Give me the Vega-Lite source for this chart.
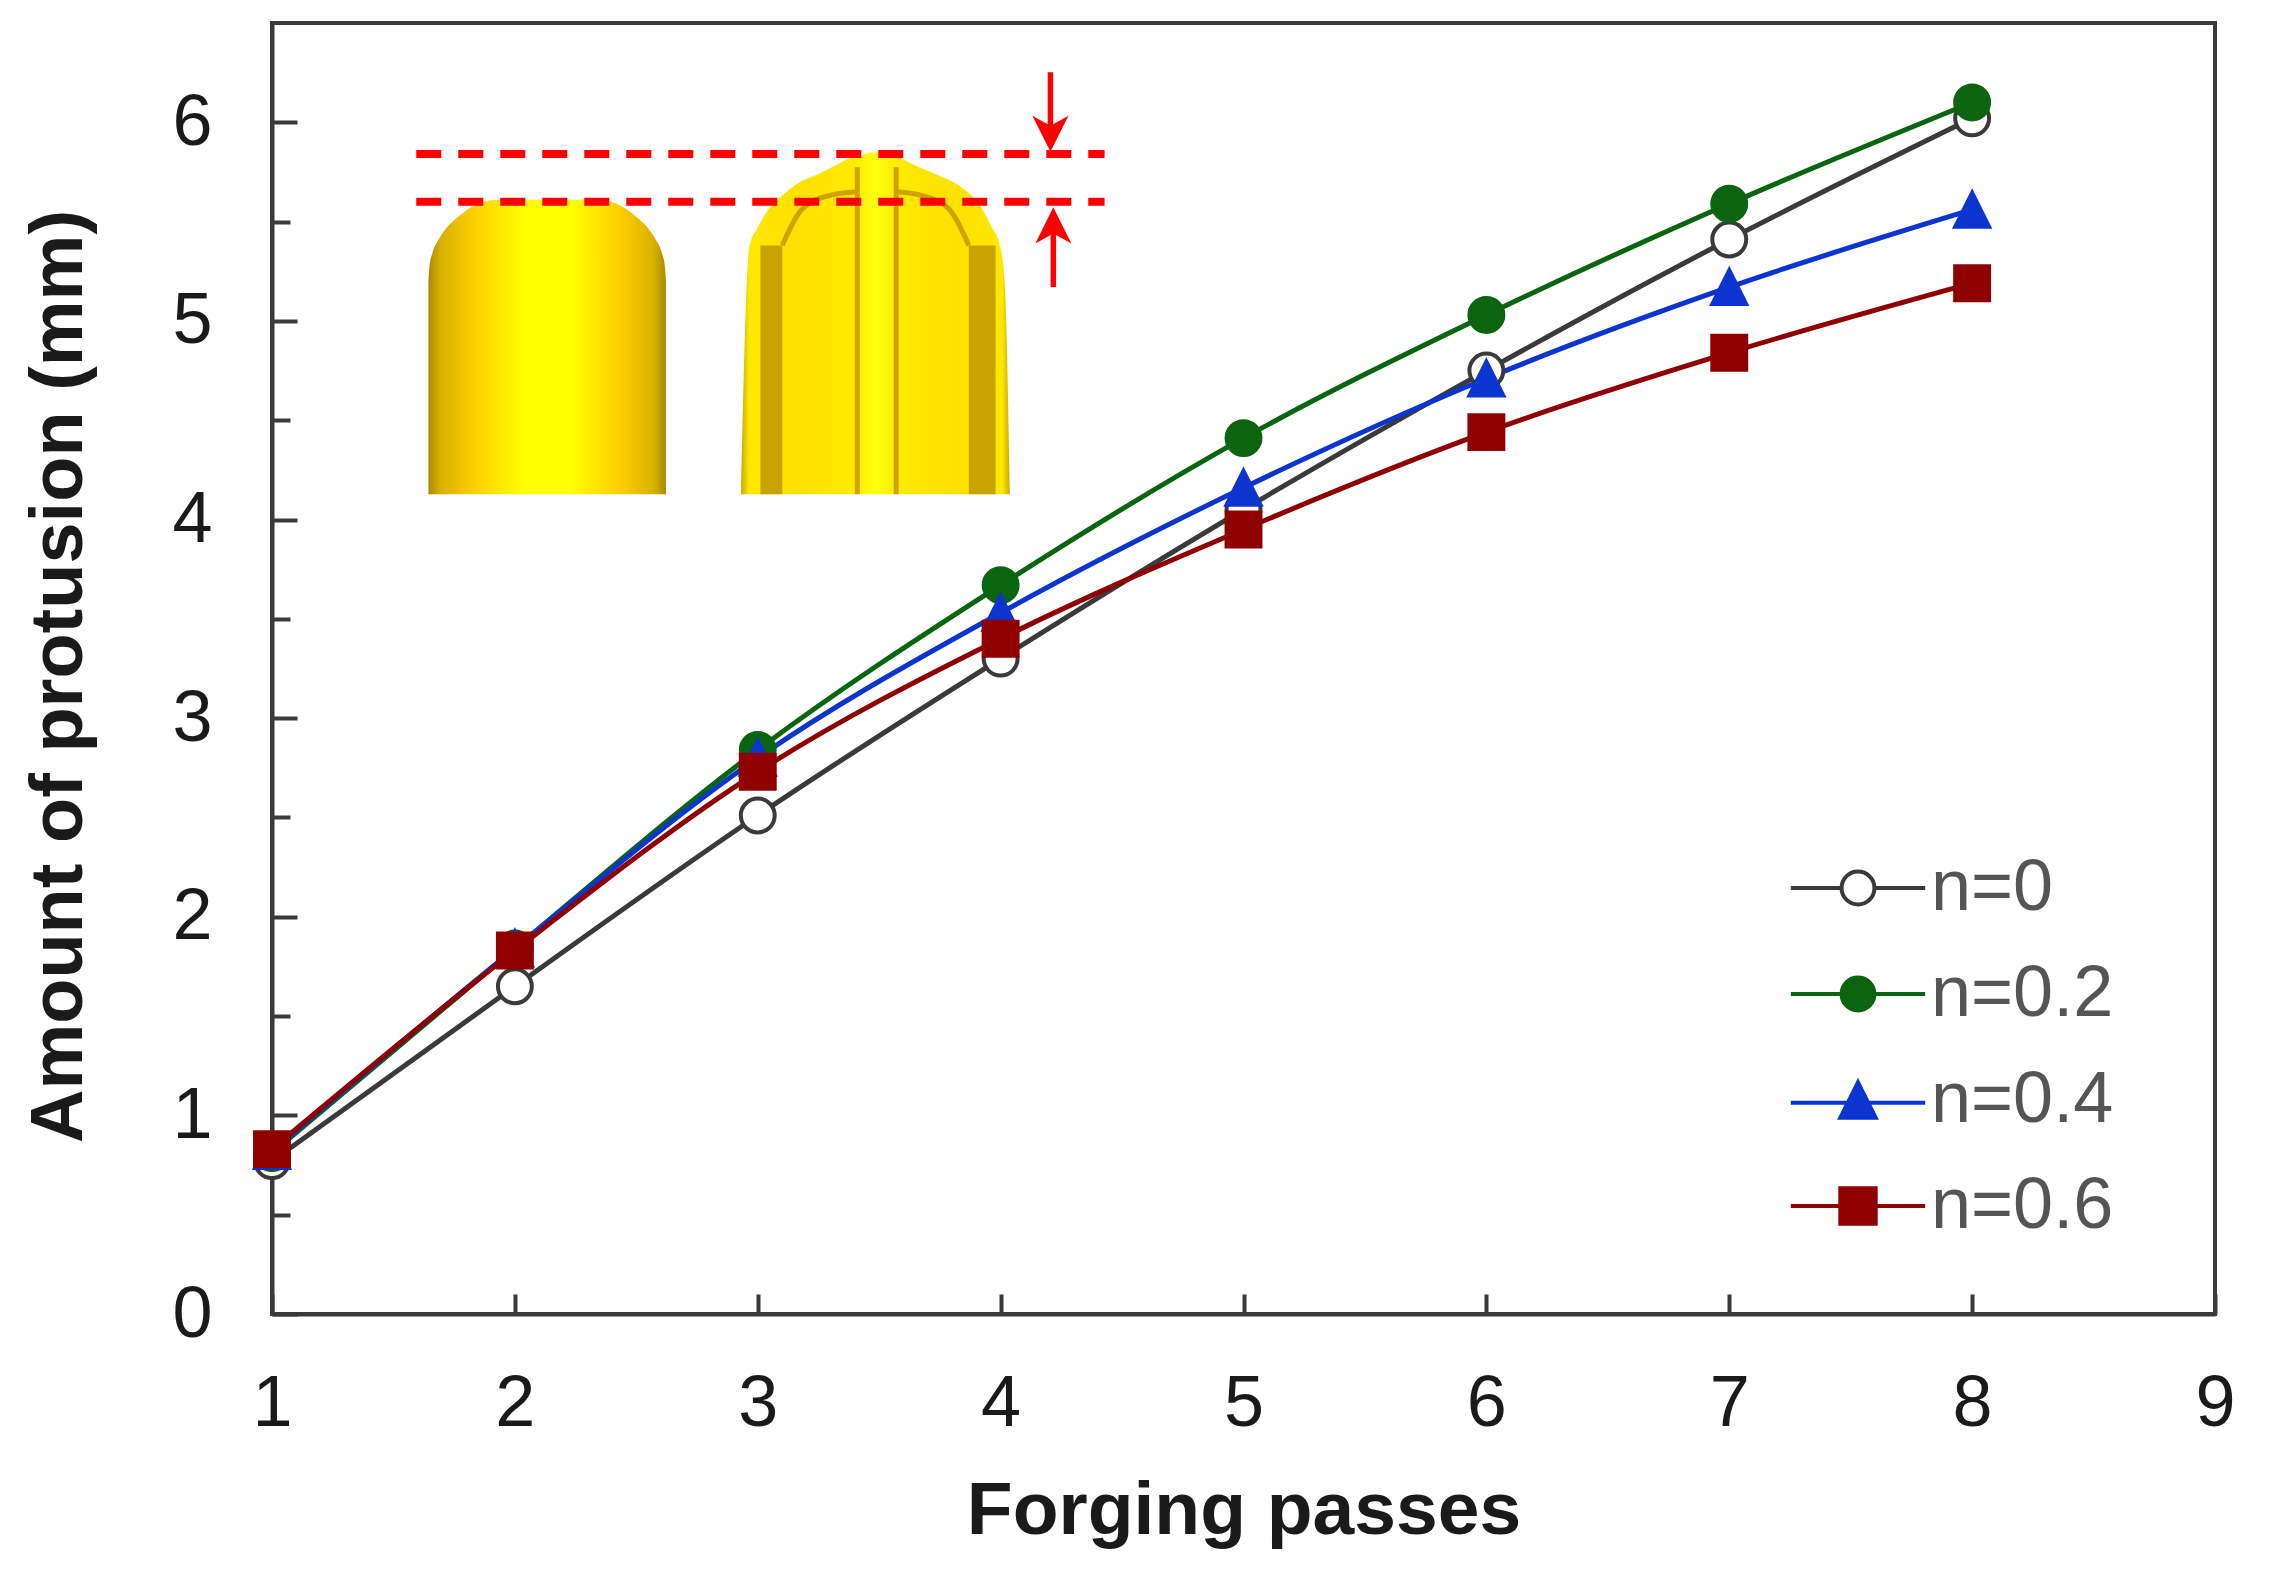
{
"$schema":"https://vega.github.io/schema/vega-lite/v6.json",
"width":1943,"height":1291,
"autosize":{"type":"none"},
"padding":{"left":272,"top":23,"right":65,"bottom":269},
"background":"white",
"config":{"view":{"stroke":"#3a3a3a","strokeWidth":4},"font":"Liberation Sans"},
"datasets":{
"series":[
{"passes":1,"protrusion":0.77,"series":"n=0"},{"passes":2,"protrusion":1.65,"series":"n=0"},{"passes":3,"protrusion":2.51,"series":"n=0"},{"passes":4,"protrusion":3.30,"series":"n=0"},{"passes":5,"protrusion":4.05,"series":"n=0"},{"passes":6,"protrusion":4.75,"series":"n=0"},{"passes":7,"protrusion":5.41,"series":"n=0"},{"passes":8,"protrusion":6.02,"series":"n=0"},
{"passes":1,"protrusion":0.81,"series":"n=0.2"},{"passes":2,"protrusion":1.84,"series":"n=0.2"},{"passes":3,"protrusion":2.84,"series":"n=0.2"},{"passes":4,"protrusion":3.67,"series":"n=0.2"},{"passes":5,"protrusion":4.41,"series":"n=0.2"},{"passes":6,"protrusion":5.03,"series":"n=0.2"},{"passes":7,"protrusion":5.59,"series":"n=0.2"},{"passes":8,"protrusion":6.10,"series":"n=0.2"},
{"passes":1,"protrusion":0.82,"series":"n=0.4"},{"passes":2,"protrusion":1.84,"series":"n=0.4"},{"passes":3,"protrusion":2.80,"series":"n=0.4"},{"passes":4,"protrusion":3.53,"series":"n=0.4"},{"passes":5,"protrusion":4.16,"series":"n=0.4"},{"passes":6,"protrusion":4.71,"series":"n=0.4"},{"passes":7,"protrusion":5.17,"series":"n=0.4"},{"passes":8,"protrusion":5.56,"series":"n=0.4"},
{"passes":1,"protrusion":0.83,"series":"n=0.6"},{"passes":2,"protrusion":1.83,"series":"n=0.6"},{"passes":3,"protrusion":2.73,"series":"n=0.6"},{"passes":4,"protrusion":3.40,"series":"n=0.6"},{"passes":5,"protrusion":3.95,"series":"n=0.6"},{"passes":6,"protrusion":4.44,"series":"n=0.6"},{"passes":7,"protrusion":4.84,"series":"n=0.6"},{"passes":8,"protrusion":5.19,"series":"n=0.6"}
],
"billet":[{"a":1.644,"b":5.2},{"a":1.648,"b":5.27},{"a":1.66,"b":5.34},{"a":1.684,"b":5.405},{"a":1.72,"b":5.47},{"a":1.764,"b":5.522},{"a":1.81,"b":5.565},{"a":1.864,"b":5.598},{"a":1.94,"b":5.61},{"a":2.023,"b":5.61},{"a":2.243,"b":5.61},{"a":2.33,"b":5.61},{"a":2.403,"b":5.598},{"a":2.457,"b":5.565},{"a":2.502,"b":5.522},{"a":2.546,"b":5.47},{"a":2.582,"b":5.405},{"a":2.606,"b":5.34},{"a":2.618,"b":5.27},{"a":2.622,"b":5.2}],
"forged":[{"a":2.931,"b":4.127},{"a":2.951,"b":5.07},{"a":2.965,"b":5.371},{"a":3.0,"b":5.47},{"a":3.041,"b":5.556},{"a":3.10,"b":5.63},{"a":3.161,"b":5.69},{"a":3.25,"b":5.74},{"a":3.32,"b":5.783},{"a":3.38,"b":5.82},{"a":3.44,"b":5.84},{"a":3.5,"b":5.85},{"a":3.56,"b":5.835},{"a":3.62,"b":5.80},{"a":3.68,"b":5.766},{"a":3.76,"b":5.725},{"a":3.819,"b":5.69},{"a":3.88,"b":5.63},{"a":3.919,"b":5.573},{"a":3.96,"b":5.48},{"a":3.999,"b":5.371},{"a":4.019,"b":5.137},{"a":4.039,"b":4.127}],
"bands":[{"a":3.011,"a2":3.101,"b":4.127,"b2":5.38},{"a":3.869,"a2":3.979,"b":4.127,"b2":5.38}],
"creases":[
{"k":"c1","a":3.41,"b":4.127},{"k":"c1","a":3.41,"b":5.774},
{"k":"c2","a":3.57,"b":4.127},{"k":"c2","a":3.57,"b":5.774},
{"k":"c3","a":3.101,"b":5.38},{"k":"c3","a":3.18,"b":5.56},{"k":"c3","a":3.29,"b":5.63},{"k":"c3","a":3.41,"b":5.65},
{"k":"c4","a":3.869,"b":5.38},{"k":"c4","a":3.79,"b":5.56},{"k":"c4","a":3.68,"b":5.63},{"k":"c4","a":3.57,"b":5.65}
],
"levels":[{"a":1.594,"a2":4.428,"b":5.841},{"a":1.594,"a2":4.428,"b":5.6}],
"shafts":[{"k":"down","a":4.205,"b":6.252},{"k":"down","a":4.205,"b":5.95},{"k":"up","a":4.217,"b":5.17},{"k":"up","a":4.217,"b":5.47}],
"headsDown":[{"a":4.205,"b":5.942}],
"headsUp":[{"a":4.217,"b":5.481}]
},
"encoding":{},
"layer":[
{"data":{"name":"billet"},"mark":{"type":"area","interpolate":"monotone","fill":{"gradient":"linear","x1":0,"x2":1,"y1":0,"y2":0,"stops":[{"offset":0,"color":"#a88a00"},{"offset":0.05,"color":"#d8b000"},{"offset":0.2,"color":"#ffd000"},{"offset":0.4,"color":"#ffff00"},{"offset":0.6,"color":"#ffff00"},{"offset":0.8,"color":"#ffd000"},{"offset":0.95,"color":"#d8b000"},{"offset":1,"color":"#a88a00"}]}},
"encoding":{"x":{"field":"a","type":"quantitative","scale":{"domain":[1,9]},"axis":{"values":[1,2,3,4,5,6,7,8,9],"format":"d","title":"Forging passes","grid":false,"domainColor":"#3a3a3a","domainWidth":4,"tickColor":"#3a3a3a","tickWidth":4,"tickSize":-20,"labelFontSize":72,"labelFont":"Liberation Sans","labelColor":"#1a1a1a","labelPadding":74,"labelFlush":false,"labelOverlap":false,"titleFontSize":75,"titleFont":"Liberation Sans","titleFontWeight":"bold","titleColor":"#1a1a1a","titlePadding":35}},
"y":{"field":"b","type":"quantitative","scale":{"domain":[0,6.5],"nice":false},"axis":{"values":[0,0.5,1,1.5,2,2.5,3,3.5,4,4.5,5,5.5,6],"labelExpr":"datum.value%1===0?format(datum.value,'d'):''","title":"Amount of protusion (mm)","grid":false,"domainColor":"#3a3a3a","domainWidth":4,"tickColor":"#3a3a3a","tickWidth":4,"tickSize":{"condition":{"test":"datum.value%1===0","value":-25},"value":-18},"labelFontSize":72,"labelFont":"Liberation Sans","labelColor":"#1a1a1a","labelPadding":85,"labelOverlap":false,"labelFlush":false,"titleFontSize":74,"titleFont":"Liberation Sans","titleFontWeight":"bold","titleColor":"#1a1a1a","titlePadding":74,"titleY":653}},
"y2":{"datum":4.127}}},
{"data":{"name":"forged"},"mark":{"type":"area","interpolate":"monotone","fill":{"gradient":"linear","x1":0,"x2":1,"y1":0,"y2":0,"stops":[{"offset":0,"color":"#c8a800"},{"offset":0.03,"color":"#ffe800"},{"offset":0.2,"color":"#ffe000"},{"offset":0.42,"color":"#ffea00"},{"offset":0.5,"color":"#ffff10"},{"offset":0.58,"color":"#ffea00"},{"offset":0.8,"color":"#ffe000"},{"offset":0.97,"color":"#ffe800"},{"offset":1,"color":"#c8a800"}]}},
"encoding":{"x":{"field":"a","type":"quantitative"},"y":{"field":"b","type":"quantitative"},"y2":{"datum":4.127}}},
{"data":{"name":"bands"},"mark":{"type":"rect","fill":"#c9a400"},"encoding":{"x":{"field":"a","type":"quantitative"},"x2":{"field":"a2"},"y":{"field":"b","type":"quantitative"},"y2":{"field":"b2"}}},
{"data":{"name":"creases"},"mark":{"type":"line","stroke":"#cfa200","strokeWidth":5,"interpolate":"monotone"},"encoding":{"x":{"field":"a","type":"quantitative"},"y":{"field":"b","type":"quantitative"},"detail":{"field":"k"},"order":{"field":"b"}}},
{"data":{"name":"levels"},"mark":{"type":"rule","stroke":"#ff0000","strokeWidth":8,"strokeDash":[25,17]},"encoding":{"x":{"field":"a","type":"quantitative"},"x2":{"field":"a2"},"y":{"field":"b","type":"quantitative"}}},
{"data":{"name":"shafts"},"mark":{"type":"line","stroke":"#ff0000","strokeWidth":5.5},"encoding":{"x":{"field":"a","type":"quantitative"},"y":{"field":"b","type":"quantitative"},"detail":{"field":"k"}}},
{"data":{"name":"headsDown"},"mark":{"type":"point","filled":true,"fill":"#ff0000","stroke":null,"opacity":1,"size":1300,"shape":"M0,1L-1,-1L0,-0.45L1,-1Z"},"encoding":{"x":{"field":"a","type":"quantitative"},"y":{"field":"b","type":"quantitative"}}},
{"data":{"name":"headsUp"},"mark":{"type":"point","filled":true,"fill":"#ff0000","stroke":null,"opacity":1,"size":1300,"shape":"M0,-1L1,1L0,0.45L-1,1Z"},"encoding":{"x":{"field":"a","type":"quantitative"},"y":{"field":"b","type":"quantitative"}}},
{"data":{"name":"series"},"mark":{"type":"line","strokeWidth":5,"interpolate":"monotone"},"encoding":{"x":{"field":"passes","type":"quantitative"},"y":{"field":"protrusion","type":"quantitative"},"stroke":{"field":"series","type":"nominal","scale":{"domain":["n=0","n=0.2","n=0.4","n=0.6"],"range":["#3a3a3a","#0a6410","#0c35d0","#8f0000"]},"legend":null},"detail":{"field":"series"}}},
{"data":{"name":"series"},"mark":{"type":"point","filled":true,"strokeWidth":4,"opacity":1},"encoding":{"x":{"field":"passes","type":"quantitative"},"y":{"field":"protrusion","type":"quantitative"},"size":{"field":"series","type":"nominal","scale":{"domain":["n=0","n=0.2","n=0.4","n=0.6"],"range":[1150,1150,1250,1250]},"legend":null},"stroke":{"field":"series","type":"nominal","legend":null},"fill":{"field":"series","type":"nominal","scale":{"domain":["n=0","n=0.2","n=0.4","n=0.6"],"range":["#ffffff","#0a6410","#0c35d0","#8f0000"]},"legend":null},"shape":{"field":"series","type":"nominal","scale":{"domain":["n=0","n=0.2","n=0.4","n=0.6"],"range":["circle","circle","M0,-1L1,1L-1,1Z","square"]},"legend":null}}},
{"data":{"name":"series"},"mark":{"type":"point","filled":true,"size":1250,"strokeWidth":4,"opacity":0},"encoding":{"x":{"field":"passes","type":"quantitative"},"y":{"field":"protrusion","type":"quantitative"},"shape":{"field":"series","type":"nominal","scale":{"domain":["n=0","n=0.2","n=0.4","n=0.6"],"range":["M-3.8,0L-0.93,0M0.93,0L3.8,0M-0.93,0A0.93,0.93 0 1 1 0.93,0A0.93,0.93 0 1 1 -0.93,0Z","M-3.8,0L-0.93,0M0.93,0L3.8,0M-0.93,0A0.93,0.93 0 1 1 0.93,0A0.93,0.93 0 1 1 -0.93,0Z","M-3.8,0.15L3.8,0.15M0,-1L1,1L-1,1Z","M-3.8,0L3.8,0M-1,-1L1,-1L1,1L-1,1Z"]},"legend":{"orient":"none","legendX":1550,"legendY":829,"title":null,"symbolSize":1250,"symbolOpacity":1,"symbolStrokeWidth":4,"labelFontSize":72,"labelFont":"Liberation Sans","labelColor":"#555555","labelOffset":37,"labelLimit":400,"rowPadding":34,"encoding":{"symbols":{
"opacity":{"value":1},
"stroke":{"value":{"expr":"datum.value==='n=0'?'#3a3a3a':datum.value==='n=0.2'?'#0a6410':datum.value==='n=0.4'?'#0c35d0':'#8f0000'"}},
"fill":{"value":{"expr":"datum.value==='n=0'?'#ffffff':datum.value==='n=0.2'?'#0a6410':datum.value==='n=0.4'?'#0c35d0':'#8f0000'"}}
}}}}}}
],
"resolve":{"scale":{"shape":"independent"},"legend":{"shape":"independent"}}
}
